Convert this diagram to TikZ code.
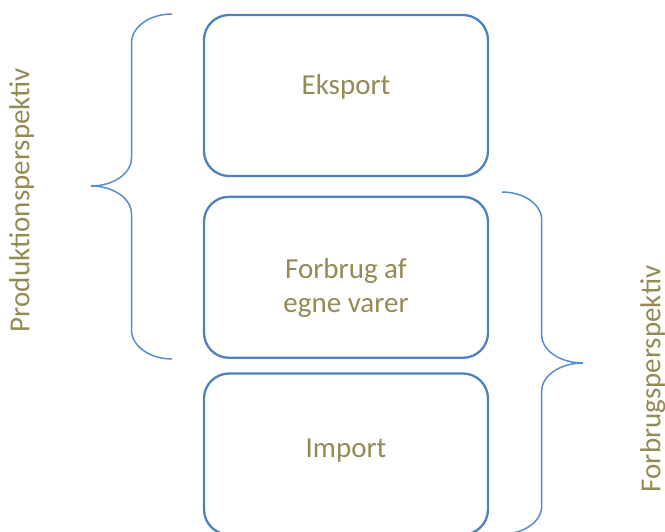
\documentclass[tikz,border=0pt]{standalone}
\usepackage{fontspec}
\setmainfont{Carlito}
\definecolor{boxblue}{RGB}{79,129,189}
\definecolor{braceblue}{RGB}{88,140,210}
\definecolor{olivetext}{RGB}{148,138,84}
\begin{document}
\begin{tikzpicture}[x=1pt,y=-1pt,
  stage/.style={draw=boxblue, line width=2.3pt, fill=white, rounded corners=25pt,
    minimum width=284pt, minimum height=161pt, inner sep=0pt},
  label text/.style={text=olivetext, font=\fontsize{29}{34}\selectfont, inner sep=0pt},
  bracket/.style={draw=braceblue, line width=1.5pt}]
\useasboundingbox (0,0) rectangle (665,531);
\clip (0,0) rectangle (665,531);

% the three stacked boxes
\node[stage] (eks) at (346,95.5) {};
\node[stage] (forb) at (346,277.3) {};
\node[stage] (imp) at (346,454) {};

% box texts
\node[label text, anchor=base] (teks) at (346,94) {Eksport};
\node[label text, anchor=base] (tforb1) at (346,278) {Forbrug af};
\node[label text, anchor=base] (tforb2) at (346,312) {egne varer};
\node[label text, anchor=base] (timp) at (346,457) {Import};

% left brace spanning the upper two boxes
\path[bracket] (172,14) .. controls (149.6,14) and (131.5,27) .. (131.5,43)
  -- (131.5,158) .. controls (131.5,173.5) and (113.4,186) .. (91,186)
  .. controls (113.4,186) and (131.5,198.5) .. (131.5,214)
  -- (131.5,330) .. controls (131.5,346) and (149.6,359) .. (172,359);

% right brace spanning the lower two boxes
\path[bracket] (502,192) .. controls (524.1,192) and (541.7,204.5) .. (541.7,220)
  -- (541.7,335) .. controls (541.7,350.5) and (560.2,363) .. (583,363)
  .. controls (560.2,363) and (541.7,375.5) .. (541.7,391)
  -- (541.7,506) .. controls (541.7,521.5) and (524.1,534) .. (502,534);

% side captions
\node[label text, rotate=90, anchor=base] (prod) at (29.4,200) {Produktionsperspektiv};
\node[label text, rotate=90, anchor=base] (forbr) at (660.4,379) {Forbrugsperspektiv};
\end{tikzpicture}
\end{document}
